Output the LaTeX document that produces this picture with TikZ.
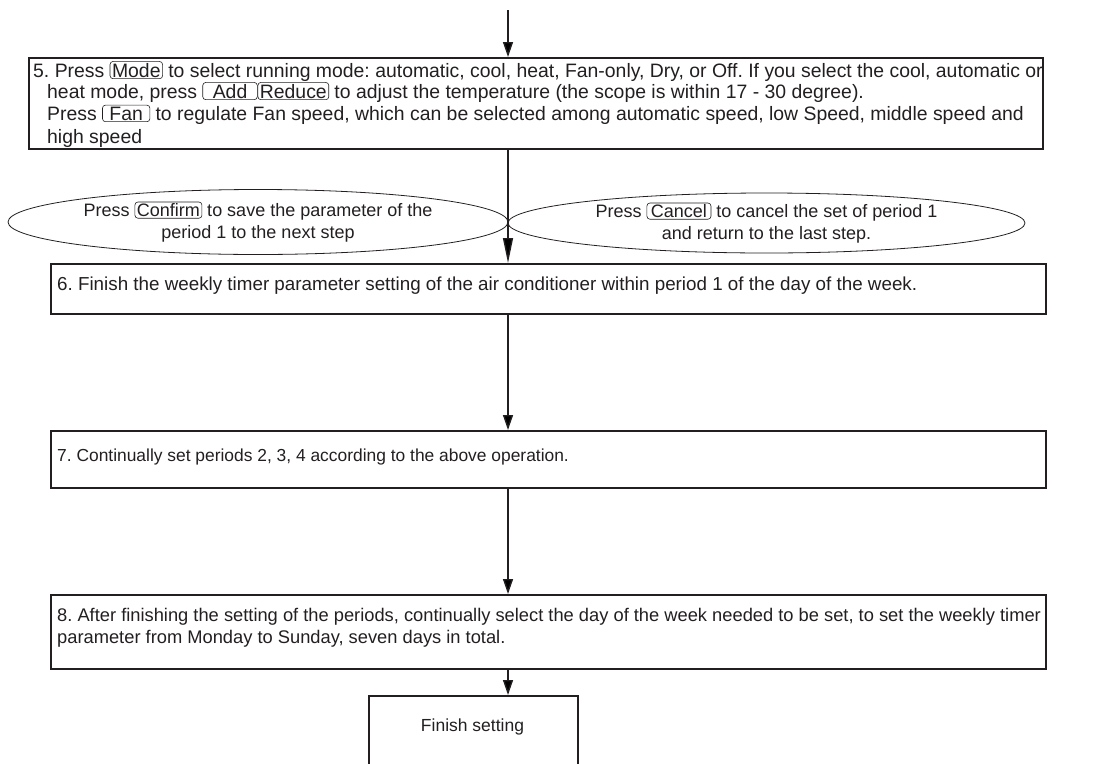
\documentclass[tikz,border=0pt]{standalone}
\usepackage{fontspec}
\setmainfont{Liberation Sans}
\usetikzlibrary{arrows.meta,shapes.geometric}
\definecolor{ink}{HTML}{231F20}
\frenchspacing
\newcommand{\keybtn}[2][2pt]{\tikz[baseline=(k.base),x=1pt,y=1pt]\node[shape=rectangle,minimum width=0pt,minimum height=0pt,anchor=base,align=center,draw=ink,line width=0.6pt,rounded corners=3pt,inner xsep=#1,inner ysep=1.5pt,text=ink](k){#2};}
\tikzset{
  stepbox/.style={draw=ink,line width=1.7pt,inner sep=0pt,anchor=north west},
  txt/.style={anchor=base west,inner sep=0pt,text=ink},
  oval/.style={draw=ink,line width=0.8pt,ellipse,inner sep=0pt,align=center,text=ink,font=\fontsize{18}{22}\selectfont},
  arr/.style={draw=ink,line width=1.4pt,-{Triangle[length=15pt,width=10pt]}},
  arrlong/.style={draw=ink,line width=1.4pt,-{Triangle[length=25pt,width=10pt]}}
}
\begin{document}
\begin{tikzpicture}[x=1pt,y=-1pt]
\useasboundingbox (0,0) rectangle (1099,763);
\coordinate (top) at (508,10);
% step 5
\node[stepbox,minimum width=1014pt,minimum height=91pt] (s5) at (28,57) {};
\begin{scope}[every node/.append style={font=\fontsize{19.4}{22}\selectfont}]
\node[txt] (l51) at (33,77) {5. Press \keybtn{Mode} to select running mode: automatic, cool, heat, Fan-only, Dry, or Off. If you select the cool, automatic or};
\node[txt] (l52) at (47,98) {heat mode, press \keybtn[10pt]{Add}\keybtn{Reduce} to adjust the temperature (the scope is within 17 - 30 degree).};
\node[txt] (l53) at (47,120) {Press \keybtn[7pt]{Fan} to regulate Fan speed, which can be selected among automatic speed, low Speed, middle speed and};
\node[txt] (l54) at (47,143) {high speed};
\end{scope}
% ellipses
\node[oval,minimum width=500pt,minimum height=65pt] (conf) at (258,222) {Press \keybtn{Confirm} to save the parameter of the\\period 1 to the next step};
\node[oval,minimum width=517pt,minimum height=60pt] (canc) at (766.5,223) {Press \keybtn[4pt]{Cancel} to cancel the set of period 1\\and return to the last step.};
% step 6
\node[stepbox,minimum width=995pt,minimum height=50pt] (s6) at (50,263) {};
\node[txt,font=\fontsize{18.8}{22}\selectfont] (l6) at (57,290) {6. Finish the weekly timer parameter setting of the air conditioner within period 1 of the day of the week.};
% step 7
\node[stepbox,minimum width=995pt,minimum height=57pt] (s7) at (50,430) {};
\node[txt,font=\fontsize{17.4}{22}\selectfont] (l7) at (57,461) {7. Continually set periods 2, 3, 4 according to the above operation.};
% step 8
\node[stepbox,minimum width=995pt,minimum height=74pt] (s8) at (50,594) {};
\node[txt,font=\fontsize{18.3}{22}\selectfont] (l81) at (57,621) {8. After finishing the setting of the periods, continually select the day of the week needed to be set, to set the weekly timer};
\node[txt,font=\fontsize{18.3}{22}\selectfont] (l82) at (57,643) {parameter from Monday to Sunday, seven days in total.};
% finish
\node[stepbox,minimum width=209pt,minimum height=80pt] (fin) at (368,695) {};
\node[anchor=center,inner sep=0pt,text=ink,font=\fontsize{17.5}{20}\selectfont] (lf) at (472.5,727) {Finish setting};
% connectors
\draw[arr] (top) -- (top |- s5.north);
\draw[arrlong] (top |- s5.south) -- (top |- s6.north);
\draw[arr] (top |- s6.south) -- (top |- s7.north);
\draw[arr] (top |- s7.south) -- (top |- s8.north);
\draw[arr] (top |- s8.south) -- (top |- fin.north);
\end{tikzpicture}
\end{document}
